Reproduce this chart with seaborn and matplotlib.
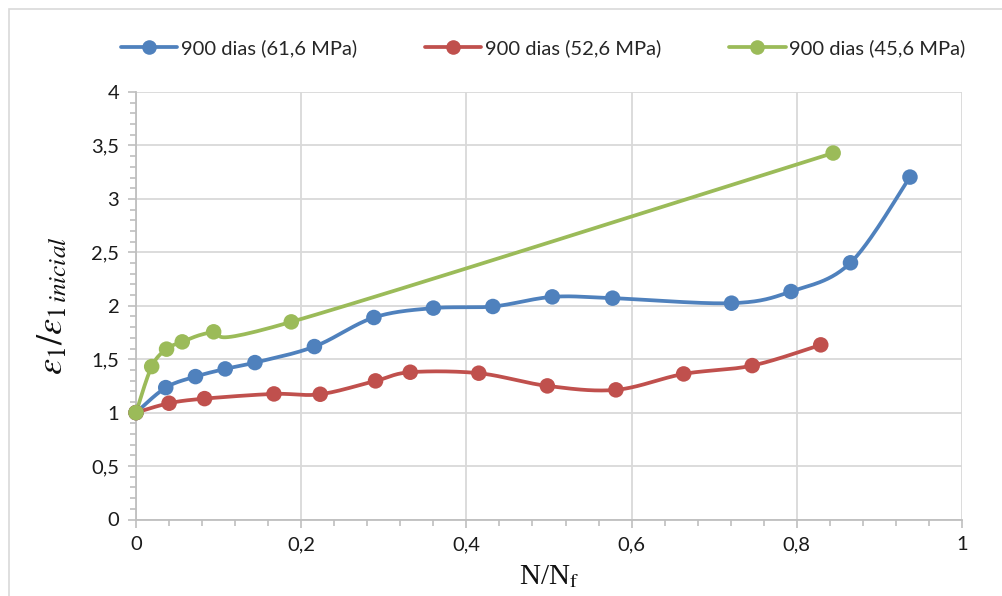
import numpy as np
import pandas as pd
import matplotlib
matplotlib.use("Agg")
import matplotlib.pyplot as plt
import seaborn as sns
from matplotlib.ticker import MultipleLocator, FuncFormatter
from matplotlib.patches import Rectangle
from matplotlib.lines import Line2D

# ---------------- data ----------------
series_names = ["900 dias (61,6 MPa)", "900 dias (52,6 MPa)", "900 dias (45,6 MPa)"]

x_blue = [0.0, 0.036, 0.072, 0.108, 0.144, 0.216, 0.288, 0.360, 0.432, 0.504, 0.577, 0.721, 0.793, 0.865, 0.937]
y_blue = [1.0, 1.234, 1.337, 1.409, 1.468, 1.618, 1.890, 1.978, 1.993, 2.083, 2.071, 2.024, 2.133, 2.402, 3.204]

x_red = [0.0, 0.040, 0.083, 0.167, 0.223, 0.290, 0.332, 0.415, 0.498, 0.581, 0.663, 0.746, 0.829]
y_red = [1.0, 1.088, 1.131, 1.175, 1.172, 1.297, 1.378, 1.369, 1.250, 1.213, 1.362, 1.440, 1.634]

x_green = [0.0, 0.019, 0.037, 0.056, 0.094, 0.188, 0.844]
y_green = [1.0, 1.431, 1.594, 1.662, 1.756, 1.849, 3.429]

colors = ["#4F81BD", "#C0504D", "#9BBB59"]

x_ticks = [0, 0.2, 0.4, 0.6, 0.8, 1]
y_ticks = [0, 0.5, 1, 1.5, 2, 2.5, 3, 3.5, 4]

# --------------- figure ---------------
sns.set_theme(style="white")
plt.rcParams["font.family"] = ["Lato", "DejaVu Sans"]
plt.rcParams["mathtext.fontset"] = "stix"

W, H = 1002, 596
fig = plt.figure(figsize=(W / 100, H / 100), dpi=100)
fig.patch.set_facecolor("white")
ax = fig.add_axes([136 / W, 1 - 519.5 / H, (962 - 136) / W, (519.5 - 92) / H])

# chart-area border
fig.patches.append(Rectangle((9 / W, -0.05), 1.2, 1.05 - 9 / H, transform=fig.transFigure,
                             fill=False, edgecolor="#d9d9d9", linewidth=1.2, zorder=0))

ax.set_xlim(0, 1)
ax.set_ylim(0, 4)


def smooth(xs, ys, ax, n=30):
    """Excel-like smoothed curve (Catmull-Rom Bezier) computed in display space."""
    pts = ax.transData.transform(np.column_stack([xs, ys]))
    out = [pts[0]]
    m = len(pts)
    for i in range(m - 1):
        p0 = pts[i - 1] if i > 0 else pts[i]
        p1 = pts[i]
        p2 = pts[i + 1]
        p3 = pts[i + 2] if i + 2 < m else pts[i + 1]
        c1 = p1 + (p2 - p0) / 6.0
        c2 = p2 - (p3 - p1) / 6.0
        t = np.linspace(0, 1, n)[1:, None]
        seg = ((1 - t) ** 3) * p1 + 3 * ((1 - t) ** 2) * t * c1 + 3 * (1 - t) * t ** 2 * c2 + t ** 3 * p2
        out.extend(seg)
    out = np.array(out)
    return ax.transData.inverted().transform(out)


datasets = [(x_blue, y_blue), (x_red, y_red), (x_green, y_green)]
frames = []
for name, (xs, ys) in zip(series_names, datasets):
    frames.append(pd.DataFrame({"x": xs, "y": ys, "serie": name}))
df = pd.concat(frames, ignore_index=True)

for name, (xs, ys), c in zip(series_names, datasets, colors):
    curve = smooth(xs, ys, ax)
    ax.plot(curve[:, 0], curve[:, 1], color=c, lw=2.7, solid_capstyle="round", zorder=3)

sns.scatterplot(data=df, x="x", y="y", hue="serie", palette=colors, s=125,
                edgecolor="none", ax=ax, legend=False, zorder=4, clip_on=False)

# grid / spines
ax.set_xticks(x_ticks)
ax.set_yticks(y_ticks)
ax.xaxis.set_minor_locator(MultipleLocator(0.04))
ax.yaxis.set_minor_locator(MultipleLocator(0.1))
fmt = FuncFormatter(lambda v, p: ("%g" % v).replace(".", ","))
ax.xaxis.set_major_formatter(fmt)
ax.yaxis.set_major_formatter(fmt)
ax.grid(True, which="major", color="#d9d9d9", lw=1.3)
ax.set_axisbelow(True)
for s in ["top", "right"]:
    ax.spines[s].set_visible(False)
for s in ["left", "bottom"]:
    ax.spines[s].set_color("#bfbfbf")
    ax.spines[s].set_linewidth(1.3)
ax.tick_params(which="major", direction="out", length=6, width=1.2, color="#bfbfbf",
               labelsize=14.5, labelcolor="#1a1a1a", pad=6)
ax.tick_params(which="minor", direction="out", length=4, width=1.2, color="#bfbfbf")
ax.tick_params(axis="both", which="both", bottom=True, left=True)

ax.set_xlabel(r"N/N$_\mathrm{f}$", fontsize=21, family="Liberation Serif", labelpad=7, color="#111111")
ax.set_ylabel(r"$\varepsilon_1/\varepsilon_{1\,inicial}$", fontsize=26, labelpad=16, color="#111111")

# legend
handles = [Line2D([0], [0], color=c, lw=2.7, marker="o", markersize=10.5, markeredgewidth=0)
           for c in colors]
fig.legend(handles, series_names, loc="center", bbox_to_anchor=(543 / W, 1 - 48 / H), ncol=3,
           frameon=False, fontsize=14.5, handlelength=2.8, handletextpad=0.15, columnspacing=3.4)

fig.savefig("out.png", dpi=100, facecolor="white")
